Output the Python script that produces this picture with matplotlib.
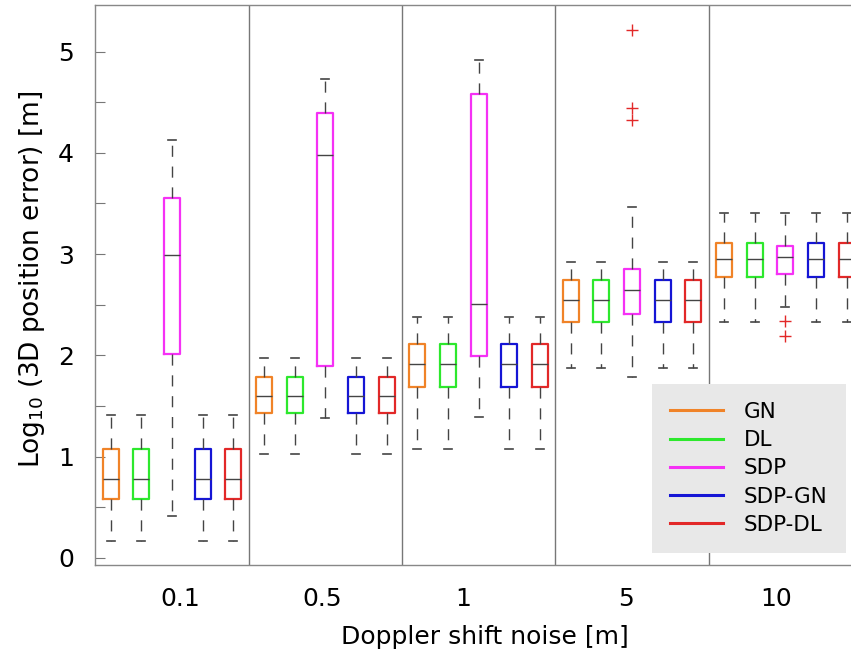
import matplotlib
matplotlib.use("Agg")
import matplotlib.pyplot as plt
from matplotlib.lines import Line2D

# ---- data (log10 of 3D position error) ----
noise_levels = ["0.1", "0.5", "1", "5", "10"]
methods = ["GN", "DL", "SDP", "SDP-GN", "SDP-DL"]
colors = ["#f08328", "#2de82d", "#f531f5", "#1515d5", "#e22828"]

# per method: lists over noise levels
whislo = {
    "GN":     [0.17, 1.03, 1.08, 1.88, 2.33],
    "DL":     [0.17, 1.03, 1.08, 1.88, 2.33],
    "SDP":    [0.41, 1.38, 1.39, 1.79, 2.48],
    "SDP-GN": [0.17, 1.03, 1.08, 1.88, 2.33],
    "SDP-DL": [0.17, 1.03, 1.08, 1.88, 2.33],
}
q1 = {
    "GN":     [0.58, 1.43, 1.69, 2.33, 2.77],
    "DL":     [0.58, 1.43, 1.69, 2.33, 2.77],
    "SDP":    [2.01, 1.90, 1.99, 2.41, 2.80],
    "SDP-GN": [0.58, 1.43, 1.69, 2.33, 2.77],
    "SDP-DL": [0.58, 1.43, 1.69, 2.33, 2.77],
}
med = {
    "GN":     [0.78, 1.60, 1.91, 2.55, 2.95],
    "DL":     [0.78, 1.60, 1.91, 2.55, 2.95],
    "SDP":    [2.99, 3.98, 2.51, 2.65, 2.97],
    "SDP-GN": [0.78, 1.60, 1.91, 2.55, 2.95],
    "SDP-DL": [0.78, 1.60, 1.91, 2.55, 2.95],
}
q3 = {
    "GN":     [1.08, 1.79, 2.11, 2.74, 3.11],
    "DL":     [1.08, 1.79, 2.11, 2.74, 3.11],
    "SDP":    [3.55, 4.39, 4.58, 2.85, 3.08],
    "SDP-GN": [1.08, 1.79, 2.11, 2.74, 3.11],
    "SDP-DL": [1.08, 1.79, 2.11, 2.74, 3.11],
}
whishi = {
    "GN":     [1.41, 1.97, 2.38, 2.92, 3.41],
    "DL":     [1.41, 1.97, 2.38, 2.92, 3.41],
    "SDP":    [4.13, 4.73, 4.92, 3.47, 3.41],
    "SDP-GN": [1.41, 1.97, 2.38, 2.92, 3.41],
    "SDP-DL": [1.41, 1.97, 2.38, 2.92, 3.41],
}
fliers = {
    "GN":     [[], [], [], [], []],
    "DL":     [[], [], [], [], []],
    "SDP":    [[], [], [], [5.21, 4.44, 4.32], [2.34, 2.19]],
    "SDP-GN": [[], [], [], [], []],
    "SDP-DL": [[], [], [], [], []],
}

yticks = [0, 0.5, 1, 1.5, 2, 2.5, 3, 3.5, 4, 4.5, 5]
ytick_labels = ["0", "", "1", "", "2", "", "3", "", "4", "", "5"]

# ---- figure ----
fig = plt.figure(figsize=(8.51, 6.54), dpi=100)
ax = fig.add_axes([95 / 851, 89 / 654, 767 / 851, 560 / 654])

n_m = len(methods)
for gi, lvl in enumerate(noise_levels):
    for mi, m in enumerate(methods):
        pos = gi * n_m + mi + 1
        stats = [dict(med=med[m][gi], q1=q1[m][gi], q3=q3[m][gi],
                      whislo=whislo[m][gi], whishi=whishi[m][gi],
                      fliers=fliers[m][gi])]
        ax.bxp(stats, positions=[pos], widths=0.53, showfliers=True,
               boxprops=dict(color=colors[mi], linewidth=1.6),
               medianprops=dict(color="#444444", linewidth=1.0),
               whiskerprops=dict(color="#444444", linewidth=1.0,
                                 linestyle=(0, (8, 7))),
               capprops=dict(color="#444444", linewidth=1.2),
               capwidths=0.26,
               flierprops=dict(marker="+", markeredgecolor="#e22828",
                               markersize=9, markeredgewidth=1.0,
                               linestyle="none"),
               manage_ticks=False)

# group separators
for gi in range(1, len(noise_levels)):
    ax.axvline(gi * n_m + 0.5, color="#777777", linewidth=1.0)

ax.set_xlim(0.49, 25.5)
ax.set_ylim(-0.07, 5.46)

# x ticks near group centres
xt_pos = [3.26, 7.9, 12.48, 17.8, 22.7]
ax.set_xticks(xt_pos)
ax.set_xticklabels(noise_levels, fontsize=18)
ax.tick_params(axis="x", length=0, pad=16)

ax.set_yticks(yticks)
ax.set_yticklabels(ytick_labels, fontsize=18)
ax.tick_params(axis="y", direction="in", length=7, color="#777777", pad=15)

for s in ax.spines.values():
    s.set_color("#888888")
    s.set_linewidth(1.0)

ax.set_xlabel("Doppler shift noise [m]", fontsize=18)
ax.xaxis.set_label_coords(0.508, -0.108)
ax.set_ylabel(r"Log$_{10}$ (3D position error) [m]", fontsize=19)
ax.yaxis.set_label_coords(-0.063, 0.51)

handles = [Line2D([0], [0], color=c, linewidth=2.2) for c in colors]
leg = fig.legend(handles, methods, loc="lower left",
                 bbox_to_anchor=(652 / 851, (654 - 553) / 654),
                 fontsize=15.5, frameon=True, fancybox=False,
                 handlelength=2.45, handletextpad=0.95, labelspacing=0.38,
                 borderpad=0.85, borderaxespad=0)
leg.get_frame().set_facecolor("#e8e8e8")
leg.get_frame().set_edgecolor("none")
leg.get_frame().set_alpha(1)

fig.savefig("out.png", dpi=100)
